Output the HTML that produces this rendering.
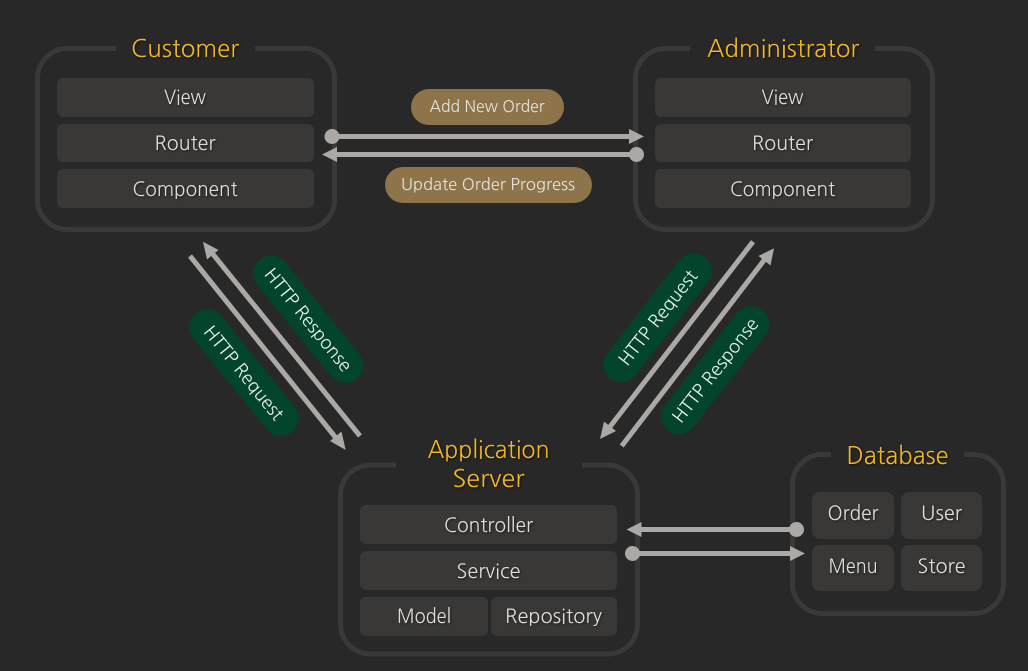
<!DOCTYPE html>
<html>
<head>
<meta charset="utf-8">
<style>
html,body{margin:0;padding:0;background:#282828;width:1028px;height:671px;overflow:hidden}
svg{display:block}
text{font-family:"NanumGothic","Liberation Sans",sans-serif;text-anchor:middle}
.t{font-size:24px;fill:#f0b429;filter:drop-shadow(1px 1px 1px #111)}
.i{font-size:20px;fill:#dedddc;filter:drop-shadow(1px 1px 1px #1c1c1c)}
.p{font-size:16px;fill:#e6e3dc}
.g{font-size:18px;fill:#e4efe9}
.box{fill:none;stroke:#3a3938;stroke-width:5}
.in{fill:#393836}
.gap{fill:#282828}
.l{stroke:#aca8a5;stroke-width:5;fill:none}
.h{fill:#aca8a5}
</style>
</head>
<body>
<svg width="1028" height="671" viewBox="0 0 1028 671" xmlns="http://www.w3.org/2000/svg">
<rect width="1028" height="671" fill="#282828"/>

<!-- Customer -->
<rect class="box" x="37.5" y="48.5" width="297" height="181" rx="30"/>
<rect class="gap" x="116" y="40" width="139" height="14"/>
<text class="t" x="185" y="57" textLength="108" lengthAdjust="spacingAndGlyphs">Customer</text>
<rect class="in" x="57" y="78" width="257" height="39" rx="6"/>
<rect class="in" x="57" y="124" width="257" height="38" rx="6"/>
<rect class="in" x="57" y="169" width="257" height="39" rx="6"/>
<text class="i" x="185" y="104" textLength="42" lengthAdjust="spacingAndGlyphs">View</text>
<text class="i" x="185" y="150" textLength="61" lengthAdjust="spacingAndGlyphs">Router</text>
<text class="i" x="185" y="196" textLength="105" lengthAdjust="spacingAndGlyphs">Component</text>

<!-- Administrator -->
<rect class="box" x="635.500" y="48.5" width="297" height="181" rx="30"/>
<rect class="gap" x="690" y="40" width="185" height="14"/>
<text class="t" x="783" y="57" textLength="152" lengthAdjust="spacingAndGlyphs">Administrator</text>
<rect class="in" x="655" y="78" width="256" height="39" rx="6"/>
<rect class="in" x="655" y="124" width="256" height="38" rx="6"/>
<rect class="in" x="655" y="169" width="256" height="39" rx="6"/>
<text class="i" x="782.500" y="104" textLength="42" lengthAdjust="spacingAndGlyphs">View</text>
<text class="i" x="782.500" y="150" textLength="61" lengthAdjust="spacingAndGlyphs">Router</text>
<text class="i" x="782.500" y="196" textLength="105" lengthAdjust="spacingAndGlyphs">Component</text>

<!-- Application Server -->
<rect class="box" x="340.500" y="465" width="297" height="189" rx="30"/>
<rect class="gap" x="396" y="458" width="186" height="14"/>
<text class="t" x="488.500" y="458" textLength="122" lengthAdjust="spacingAndGlyphs">Application</text>
<text class="t" x="488.500" y="487" textLength="72" lengthAdjust="spacingAndGlyphs">Server</text>
<rect class="in" x="360" y="505" width="257" height="39" rx="6"/>
<rect class="in" x="360" y="551" width="257" height="39" rx="6"/>
<rect class="in" x="360" y="597" width="128" height="39" rx="6"/>
<rect class="in" x="491" y="597" width="126" height="39" rx="6"/>
<text class="i" x="488.500" y="532" textLength="89" lengthAdjust="spacingAndGlyphs">Controller</text>
<text class="i" x="488.500" y="578" textLength="64" lengthAdjust="spacingAndGlyphs">Service</text>
<text class="i" x="424" y="623" textLength="54" lengthAdjust="spacingAndGlyphs">Model</text>
<text class="i" x="553.500" y="623" textLength="97" lengthAdjust="spacingAndGlyphs">Repository</text>

<!-- Database -->
<rect class="box" x="792.500" y="454.500" width="211" height="159" rx="30"/>
<rect class="gap" x="831" y="446" width="133" height="14"/>
<text class="t" x="897.500" y="464" textLength="102" lengthAdjust="spacingAndGlyphs">Database</text>
<rect class="in" x="812" y="492" width="82" height="47" rx="8"/>
<rect class="in" x="901" y="492" width="81" height="47" rx="8"/>
<rect class="in" x="812" y="545" width="82" height="46" rx="8"/>
<rect class="in" x="901" y="545" width="81" height="46" rx="8"/>
<text class="i" x="853" y="520" textLength="51" lengthAdjust="spacingAndGlyphs">Order</text>
<text class="i" x="941.500" y="520" textLength="41" lengthAdjust="spacingAndGlyphs">User</text>
<text class="i" x="853" y="573" textLength="49" lengthAdjust="spacingAndGlyphs">Menu</text>
<text class="i" x="941.500" y="573" textLength="48" lengthAdjust="spacingAndGlyphs">Store</text>

<!-- Brown pills -->
<rect x="411" y="89" width="153" height="36" rx="18" fill="#8d744a"/>
<rect x="385" y="167" width="207" height="36" rx="18" fill="#8d744a"/>
<text class="p" x="487" y="112" textLength="115" lengthAdjust="spacingAndGlyphs">Add New Order</text>
<text class="p" x="488" y="190" textLength="174" lengthAdjust="spacingAndGlyphs">Update Order Progress</text>

<!-- Horizontal arrows top -->
<line class="l" x1="332" y1="136.500" x2="632" y2="136.500"/>
<circle class="h" cx="332" cy="136.500" r="7.500"/>
<polygon class="h" points="644,136.500 629,129 629,144"/>
<line class="l" x1="334" y1="154.500" x2="636" y2="154.500"/>
<circle class="h" cx="636.500" cy="154.500" r="7.500"/>
<polygon class="h" points="322,154.500 337,147 337,162"/>

<!-- Horizontal arrows DB -->
<line class="l" x1="638" y1="529.500" x2="796" y2="529.500"/>
<circle class="h" cx="796.500" cy="529.500" r="7.500"/>
<polygon class="h" points="626.500,529.500 641.500,522 641.500,537"/>
<line class="l" x1="632" y1="553.500" x2="794" y2="553.500"/>
<circle class="h" cx="632.500" cy="553.500" r="7.500"/>
<polygon class="h" points="805,553.500 790,546 790,561"/>

<!-- Left green pills -->
<line x1="271.300" y1="273.700" x2="345" y2="365" stroke="#02452b" stroke-width="36" stroke-linecap="round"/>
<line x1="207.300" y1="327" x2="280.700" y2="418" stroke="#02452b" stroke-width="36" stroke-linecap="round"/>
<text class="g" transform="translate(308,320) rotate(51)" y="6" textLength="127" lengthAdjust="spacingAndGlyphs">HTTP Response</text>
<text class="g" transform="translate(243.500,373) rotate(51)" y="6" textLength="115" lengthAdjust="spacingAndGlyphs">HTTP Request</text>

<!-- Right green pills -->
<line x1="621.300" y1="364.300" x2="693.700" y2="271.300" stroke="#02452b" stroke-width="36" stroke-linecap="round"/>
<line x1="679" y1="416.300" x2="751.300" y2="324" stroke="#02452b" stroke-width="36" stroke-linecap="round"/>
<text class="g" transform="translate(658,318) rotate(-52)" y="6" textLength="115" lengthAdjust="spacingAndGlyphs">HTTP Request</text>
<text class="g" transform="translate(715.500,370.500) rotate(-52)" y="6" textLength="127" lengthAdjust="spacingAndGlyphs">HTTP Response</text>

<!-- Diagonals left -->
<line class="l" x1="190" y1="256" x2="336" y2="438"/>
<polygon class="h" points="345.700,450 330,441 341.500,431.500"/>
<line class="l" x1="360" y1="436" x2="212" y2="253"/>
<polygon class="h" points="203,241.700 218.500,250 207,259.500"/>

<!-- Diagonals right -->
<line class="l" x1="753" y1="241.700" x2="609" y2="428"/>
<polygon class="h" points="600,439 604,421.500 616,431"/>
<line class="l" x1="621.700" y1="446" x2="765" y2="259"/>
<polygon class="h" points="774,248.300 770.500,265.500 758.500,256"/>
</svg>
</body>
</html>
